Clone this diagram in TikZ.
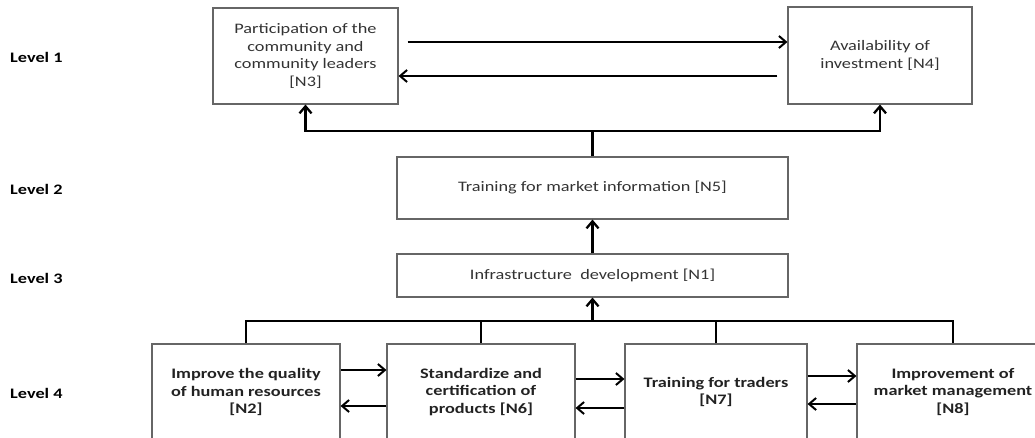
\documentclass[tikz,border=0pt]{standalone}
\usepackage{fontspec}
\setmainfont{Carlito}[FakeStretch=1.26]
\usetikzlibrary{arrows.meta}
\definecolor{boxgray}{HTML}{666666}
\definecolor{txtgray}{HTML}{333333}
\definecolor{boldtxt}{HTML}{222222}
\begin{document}
\begin{tikzpicture}[x=1pt,y=-1pt,
  basefont/.style={font=\fontsize{14.5}{17.7}\selectfont},
  box/.style={basefont, draw=boxgray, line width=1.1pt, text=txtgray,
    align=center, inner sep=0pt},
  boldbox/.style={box, text=boldtxt, font=\fontsize{14.5}{17.7}\selectfont\bfseries},
  levellabel/.style={anchor=west, inner sep=0pt, text=black,
    font=\fontsize{14.5}{17.7}\selectfont\bfseries},
  arr/.style={line width=2pt, -{Straight Barb[length=7pt,width=12pt]}},
  bus/.style={line width=2.3pt}]
\useasboundingbox (0,0) rectangle (1035,437);
\clip (0,0) rectangle (1035,437);

% level labels
\node[levellabel] (L1) at (10,57)  {Level 1};
\node[levellabel] (L2) at (10,189) {Level 2};
\node[levellabel] (L3) at (10,278) {Level 3};
\node[levellabel] (L4) at (10,393) {Level 4};

% level 1
\node[box, minimum width=185pt, minimum height=96pt] (N3) at (305.5,56)
  {Participation of the\\community and\\community leaders\\{[N3]}};
\node[box, minimum width=184pt, minimum height=97pt] (N4) at (880,55.5)
  {Availability of\\investment [N4]};

% level 2 and 3
\node[box, minimum width=391pt, minimum height=62pt] (N5) at (592.5,188)
  {Training for market information [N5]};
\node[box, minimum width=391pt, minimum height=43pt] (N1) at (592.5,275.5)
  {Infrastructure\ \ development [N1]};

% level 4
\node[boldbox, minimum width=188pt, minimum height=96pt] (N2) at (246,392)
  {Improve the quality\\of human resources\\{[N2]}};
\node[boldbox, minimum width=188pt, minimum height=96pt] (N6) at (481,392)
  {Standardize and\\certification of\\products [N6]};
\node[boldbox, minimum width=182pt, minimum height=96pt] (N7) at (716,392)
  {Training for traders\\{[N7]}};
\node[boldbox, minimum width=192pt, minimum height=96pt] (N8) at (953,392)
  {Improvement of\\market management\\{[N8]}};

% junction points of the two buses
\coordinate (busT) at (592.5,131);
\coordinate (busB) at (592.5,321);

% level 1 mutual links
\draw[arr] ([xshift=9pt,yshift=14pt]N3.east) -- ([yshift=13.5pt]N4.west);
\draw[arr] ([xshift=-10pt,yshift=-20.5pt]N4.west) -- ([yshift=-20pt]N3.east);

% level 2 to level 1
\draw[bus] (N5.north) -- (busT);
\draw[arr, line width=2.3pt] (busT) -| (N3.south);
\draw[arr, line width=2.3pt] (busT) -| (N4.south);

% level 3 to level 2
\draw[arr, line width=2.3pt] (N1.north) -- (N5.south);

% level 4 to level 3
\draw[bus] (N2.north) |- (busB) -| (N8.north);
\draw[bus] (N6.north) -- (N6.north |- busB);
\draw[bus] (N7.north) -- (N7.north |- busB);
\draw[arr, line width=2.3pt] (busB) -- (N1.south);

% level 4 mutual links
\draw[arr] ([yshift=22pt]N2.east) -- ([yshift=22pt]N6.west);
\draw[arr] ([yshift=-14pt]N6.west) -- ([yshift=-14pt]N2.east);
\draw[arr] ([yshift=13pt]N6.east) -- ([yshift=13pt]N7.west);
\draw[arr] ([yshift=-16pt]N7.west) -- ([yshift=-16pt]N6.east);
\draw[arr] ([yshift=16pt]N7.east) -- ([yshift=16pt]N8.west);
\draw[arr] ([yshift=-12pt]N8.west) -- ([yshift=-12pt]N7.east);
\end{tikzpicture}
\end{document}
